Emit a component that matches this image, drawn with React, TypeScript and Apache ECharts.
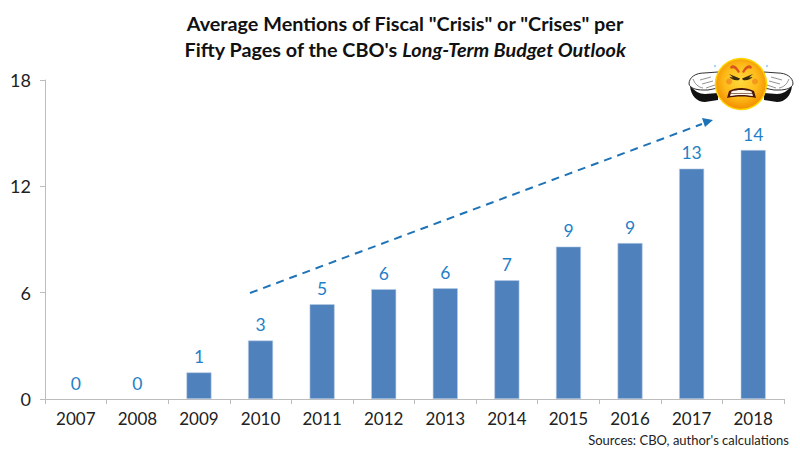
import React, { useEffect, useRef } from "react";
import * as echarts from "echarts";

const years = ["2007","2008","2009","2010","2011","2012","2013","2014","2015","2016","2017","2018"];
const mentions = [0, 0, 1.5, 3.3, 5.35, 6.2, 6.25, 6.7, 8.6, 8.8, 13.0, 14.05];
const shownLabels = ["0","0","1","3","5","6","6","7","9","9","13","14"];
const yTicks = [0, 6, 12, 18];

const FONT = "Lato, 'Open Sans', sans-serif";
const armL = "M689 84 C689 77 696 73 704 73 L718 72 L718 88 L708 90 L703 90 C696 90 690 88 689 84 Z";
const armR = "M793 84 C793 77 786 73 778 73 L764 72 L764 88 L774 90 L779 90 C786 90 792 88 793 84 Z";
const sleeveL = "M690 86 C691 96 697 102 705 102 L718 100 L718 93 L705 94 C699 94 695 91 690 86 Z";
const sleeveR = "M792 86 C791 96 785 102 777 102 L764 100 L764 93 L777 94 C783 94 787 91 792 86 Z";
const fingerL = "M700 80 L711 77 M702 84 L713 81 M706 88 L715 85 M693 79 C695 84 698 87 703 88";
const fingerR = "M782 80 L771 77 M780 84 L769 81 M776 88 L767 85 M789 79 C787 84 784 87 779 88";
const browL = "M730 67 C733 63 737 66 740 72 L738 73 C736 69 733 67 731 69 Z";
const browR = "M752 67 C749 63 745 66 742 72 L744 73 C746 69 749 67 751 69 Z";
const mouth = "M729 91 C736 87 746 87 754 91 L756 98 C748 96 735 96 727 98 Z";
const teeth = "M731.5 91.5 C737 89.5 745 89.5 751.5 91.5 L753 96 C746 94.5 737 94.5 730 96 Z";
const eyeL = "M729 74 L740 78.5 L739 80 C735 81 731 79 729.5 77 L733 77.5 Z";
const eyeR = "M753 74 L742 78.5 L743 80 C747 81 751 79 752.5 77 L749 77.5 Z";

[["armL",armL],["armR",armR],["sleeveL",sleeveL],["sleeveR",sleeveR],["fingerL",fingerL],["fingerR",fingerR],
 ["browL",browL],["browR",browR],["mouthS",mouth],["teethS",teeth],["eyeL",eyeL],["eyeR",eyeR]].forEach(([n,d]) => {
  echarts.graphic.registerShape(n, echarts.graphic.extendPath(d, {}));
});

export default function App() {
  const ref = useRef<HTMLDivElement>(null);
  useEffect(() => {
    const chart = echarts.init(ref.current!, undefined, { renderer: "svg" });
    chart.setOption({
      animation: false,
      backgroundColor: "#ffffff",
      title: {
        left: 400, top: 5, textAlign: "center",
        text: '{b|Average Mentions of Fiscal "Crisis" or "Crises" per}\n{b|Fifty Pages of the CBO\'s }{i|Long-Term Budget Outlook}',
        textStyle: {
          rich: {
            b: { fontFamily: FONT, fontSize: 19.8, fontWeight: "bold", color: "#111", lineHeight: 26 },
            i: { fontFamily: FONT, fontSize: 19.8, fontWeight: "bold", fontStyle: "italic", color: "#111", lineHeight: 26 },
          },
        },
      },
      grid: { left: 45, right: 16, top: 80, bottom: 56 },
      xAxis: {
        type: "category", data: years,
        axisLine: { lineStyle: { color: "#bdbdbd", width: 1 } },
        axisTick: { show: true, length: 5, alignWithLabel: false, lineStyle: { color: "#bdbdbd" } },
        axisLabel: { color: "#222", fontFamily: FONT, fontSize: 17, margin: 11 },
      },
      yAxis: {
        type: "value", min: 0, max: 18, interval: 6,
        axisLine: { show: true, lineStyle: { color: "#bdbdbd" } },
        axisTick: { show: true, length: 5, lineStyle: { color: "#bdbdbd" } },
        splitLine: { show: false },
        axisLabel: { color: "#222", fontFamily: FONT, fontSize: 18, margin: 14,
          formatter: (v: number) => (yTicks.includes(v) ? String(v) : "") },
      },
      series: [{
        type: "bar",
        data: mentions.map((v) => (v === 0 ? { value: v, itemStyle: { borderWidth: 0, color: "transparent" } } : v)),
        barWidth: 25,
        itemStyle: { color: "#4f81bd", borderColor: "#b9cde5", borderWidth: 0.6 },
        label: {
          show: true, position: "top", distance: 7, color: "#1f7fc8", fontFamily: FONT, fontSize: 17.5,
          formatter: (p: any) => shownLabels[p.dataIndex],
        },
      }],
      graphic: [
        { type: "line", silent: true, shape: { x1: 250, y1: 293, x2: 702, y2: 124 },
          style: { stroke: "#1f73b7", lineWidth: 2, lineDash: [8, 6] } },
        { type: "polygon", silent: true, shape: { points: [[713, 120], [702, 118], [705, 127]] }, style: { fill: "#1f73b7" } },
        { type: "text", silent: true, style: { x: 789, y: 433, text: "Sources: CBO, author's calculations", align: "right",
          fontFamily: FONT, fontSize: 13, fill: "#222" } },
        { type: "armL", silent: true, style: { fill: "#fff", stroke: "#333", lineWidth: 1 } },
        { type: "armR", silent: true, style: { fill: "#fff", stroke: "#333", lineWidth: 1 } },
        { type: "fingerL", silent: true, style: { fill: "none", stroke: "#777", lineWidth: 0.8 } },
        { type: "fingerR", silent: true, style: { fill: "none", stroke: "#777", lineWidth: 0.8 } },
        { type: "sleeveL", silent: true, style: { fill: "#111" } },
        { type: "sleeveR", silent: true, style: { fill: "#111" } },
        { type: "circle", silent: true, shape: { cx: 741, cy: 84, r: 25.5 }, style: {
          fill: new echarts.graphic.RadialGradient(0.5, 0.45, 0.55, [
            { offset: 0, color: "#ffd83c" }, { offset: 0.6, color: "#fdbb18" }, { offset: 1, color: "#f28c00" }]),
          stroke: "#ffd400", lineWidth: 1.5 } },
        { type: "circle", silent: true, shape: { cx: 729, cy: 81.5, r: 3 }, style: { fill: "#f4971e" } },
        { type: "circle", silent: true, shape: { cx: 755, cy: 81.5, r: 3 }, style: { fill: "#f4971e" } },
        { type: "browL", silent: true, style: { fill: "#d9531e" } },
        { type: "browR", silent: true, style: { fill: "#d9531e" } },
        { type: "eyeL", silent: true, style: { fill: "#3a2a10" } },
        { type: "eyeR", silent: true, style: { fill: "#3a2a10" } },
        { type: "mouthS", silent: true, style: { fill: "#4a1608" } },
        { type: "teethS", silent: true, style: { fill: "#fff8ea" } },
        { type: "line", silent: true, shape: { x1: 731, y1: 93.5, x2: 752, y2: 93.5 }, style: { stroke: "#6a3a20", lineWidth: 0.7 } },
        { type: "circle", silent: true, shape: { cx: 715, cy: 66, r: 1.2 }, style: { fill: "#a8d0ee" } },
        { type: "circle", silent: true, shape: { cx: 767, cy: 66, r: 1.2 }, style: { fill: "#a8d0ee" } },
      ],
    });
    return () => chart.dispose();
  }, []);
  return <div ref={ref} style={{ position: "fixed", left: 0, top: 0, width: 800, height: 455 }} />;
}
